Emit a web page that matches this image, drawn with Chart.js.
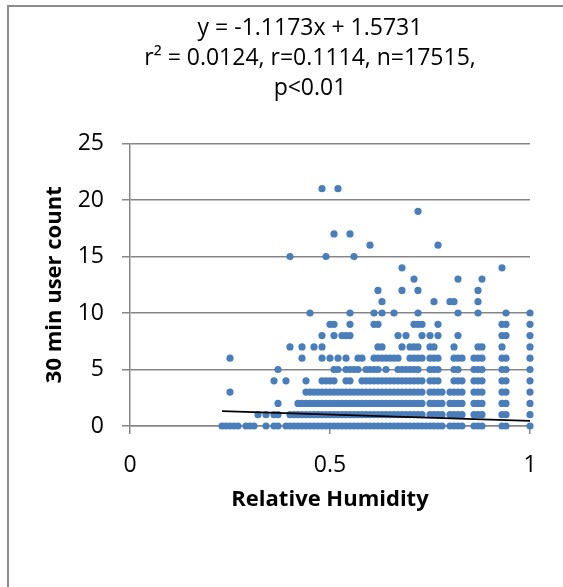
<!DOCTYPE html>
<html>
<head>
<meta charset="utf-8">
<script src="https://cdn.jsdelivr.net/npm/chart.js@4.4.1/dist/chart.umd.min.js"></script>
<style>
  html, body { margin: 0; padding: 0; overflow: hidden; background: #fff; }
  #frame { position: absolute; left: 7px; top: 5px; width: 700px; height: 700px;
           border-top: 2px solid #8c8c8c; border-left: 2px solid #8c8c8c; }
  #plot { position: absolute; left: 0; top: 0; }
</style>
</head>
<body>
<div id="frame"></div>
<canvas id="plot" width="620" height="587"></canvas>
<script>
// relative humidity (%) of the readings at each 30-min user count
const rhAt0 = [23, 24, 25, 26, 27, 29, 30, 31, 34, 36, 37, 39, 40, 41, 42, 43, 44, 45, 46, 47, 48, 49, 50,
  51, 52, 53, 54, 55, 56, 57, 58, 59, 60, 61, 62, 63, 64, 65, 66, 67, 68, 69, 70, 71, 72, 73, 74, 75, 76,
  77, 78, 80, 81, 82, 83, 86, 87, 88, 93, 94, 100];
const rhAt1 = [32, 34, 36, 37, 40, 41, 42, 43, 44, 45, 46, 47, 48, 49, 50, 51, 52, 53, 54, 55, 56, 57, 58,
  59, 60, 61, 62, 63, 64, 65, 66, 67, 68, 69, 70, 71, 72, 73, 75, 76, 77, 78, 80, 81, 82, 83, 86, 87, 88,
  93, 94, 100];
const rhAt2 = [37, 42, 43, 44, 45, 46, 47, 48, 49, 50, 51, 52, 53, 54, 55, 56, 57, 58, 59, 60, 61, 62, 63,
  64, 65, 66, 67, 68, 69, 70, 71, 72, 73, 75, 76, 77, 78, 80, 81, 82, 83, 86, 87, 88, 93, 94, 100];
const rhAt3 = [25, 44, 45, 46, 47, 48, 49, 50, 51, 52, 53, 54, 55, 56, 57, 58, 59, 60, 61, 62, 63, 64, 65,
  66, 67, 68, 69, 70, 71, 72, 73, 75, 76, 77, 78, 80, 81, 82, 83, 86, 87, 88, 93, 94, 100];
const rhAt4 = [36, 39, 44, 48, 49, 50, 51, 54, 55, 58, 59, 60, 61, 62, 63, 64, 65, 66, 67, 68, 69, 70, 71,
  72, 73, 75, 76, 77, 81, 82, 83, 86, 87, 88, 93, 94, 100];
const rhAt5 = [37, 51, 52, 54, 55, 56, 57, 59, 60, 61, 62, 64, 67, 68, 69, 70, 71, 72, 75, 76, 77, 81, 82,
  86, 87, 88, 93, 94, 100];
const rhAt6 = [25, 43, 48, 50, 52, 54, 57, 58, 61, 62, 63, 64, 65, 66, 67, 70, 71, 72, 73, 75, 76, 77, 81,
  82, 83, 86, 87, 88, 93, 94, 100];
const rhAt7 = [40, 43, 46, 48, 62, 63, 68, 70, 71, 72, 75, 76, 81, 87, 88, 93, 100];
const rhAt8 = [48, 51, 53, 54, 55, 67, 69, 73, 75, 77, 82, 93, 94, 100];
const rhAt9 = [50, 51, 55, 61, 62, 71, 72, 73, 77, 93, 94, 100];
const rhAt10 = [45, 55, 61, 63, 66, 72, 82, 87, 94, 100];
const rhAt11 = [63, 76, 80, 81, 87];
const rhAt12 = [62, 68, 72, 87];
const rhAt13 = [71, 82, 88];
const rhAt14 = [68, 93];
const rhAt15 = [40, 49, 56];
const rhAt16 = [60, 77];
const rhAt17 = [51, 55];
const rhAt19 = [72];
const rhAt21 = [48, 52];

const userCounts = [0, 1, 2, 3, 4, 5, 6, 7, 8, 9, 10, 11, 12, 13, 14, 15, 16, 17, 19, 21];
const rhByCount = [rhAt0, rhAt1, rhAt2, rhAt3, rhAt4, rhAt5, rhAt6, rhAt7, rhAt8, rhAt9, rhAt10,
  rhAt11, rhAt12, rhAt13, rhAt14, rhAt15, rhAt16, rhAt17, rhAt19, rhAt21];

// linear fit printed above the plot
const fitSlope = -1.1173;
const fitIntercept = 1.5731;
const fitRange = [0.23, 1];
const equationLines = ['y = -1.1173x + 1.5731', 'r\u00b2 = 0.0124, r=0.1114, n=17515,', 'p<0.01'];

const xTicks = [0, 0.5, 1];
const yTicks = [0, 5, 10, 15, 20, 25];

const points = [];
userCounts.forEach((n, i) => {
  rhByCount[i].forEach(rh => points.push({ x: rh / 100, y: n }));
});
const fitLine = fitRange.map(x => ({ x, y: fitSlope * x + fitIntercept }));

const gridGrey = '#868686';
const fontFamily = '"Open Sans", sans-serif';

// equation block, centred over the outer frame rather than the plot
const equationLabel = {
  id: 'equationLabel',
  afterDraw(chart) {
    const ctx = chart.ctx;
    ctx.save();
    ctx.font = '23px ' + fontFamily;
    ctx.fillStyle = '#000';
    ctx.textAlign = 'center';
    ctx.textBaseline = 'middle';
    equationLines.forEach((t, i) => ctx.fillText(t, 310, 28 + i * 30));
    ctx.restore();
  }
};

Chart.defaults.font.family = fontFamily;
Chart.defaults.color = '#000';

new Chart(document.getElementById('plot'), {
  type: 'scatter',
  data: {
    datasets: [
      {
        type: 'line',
        data: fitLine,
        borderColor: '#000',
        borderWidth: 1.75,
        pointRadius: 0,
        fill: false,
      },
      {
        data: points,
        backgroundColor: '#4A7EBB',
        borderWidth: 0,
        pointRadius: 3.6,
        pointHoverRadius: 3.6,
        clip: false,
      },
    ],
  },
  options: {
    responsive: false,
    animation: false,
    events: [],
    layout: { padding: { left: 0, top: 143.5, right: 90, bottom: 74 } },
    plugins: { legend: { display: false }, tooltip: { enabled: false } },
    scales: {
      x: {
        type: 'linear',
        min: 0,
        max: 1,
        afterBuildTicks: s => { s.ticks = xTicks.map(value => ({ value })); },
        afterFit: s => { s.height = 87; },
        grid: { drawOnChartArea: false, color: gridGrey, tickLength: 8, lineWidth: 1.5 },
        border: { color: gridGrey, width: 1.5 },
        ticks: { font: { size: 23 }, padding: 18, maxRotation: 0, callback: v => String(v) },
        title: { display: true, text: 'Relative Humidity', font: { size: 22, weight: 'bold' }, padding: 0 },
      },
      y: {
        min: 0,
        max: 25,
        afterBuildTicks: s => { s.ticks = yTicks.map(value => ({ value })); },
        afterFit: s => { s.width = 130; },
        grid: { color: gridGrey, tickLength: 8, lineWidth: 1.5 },
        border: { color: gridGrey, width: 1.5 },
        ticks: { font: { size: 23 }, padding: 18, callback: v => String(v) },
        title: { display: true, text: '30 min user count', font: { size: 22, weight: 'bold' }, padding: { top: 42, bottom: 0 } },
      },
    },
  },
  plugins: [equationLabel],
});
</script>
</body>
</html>
